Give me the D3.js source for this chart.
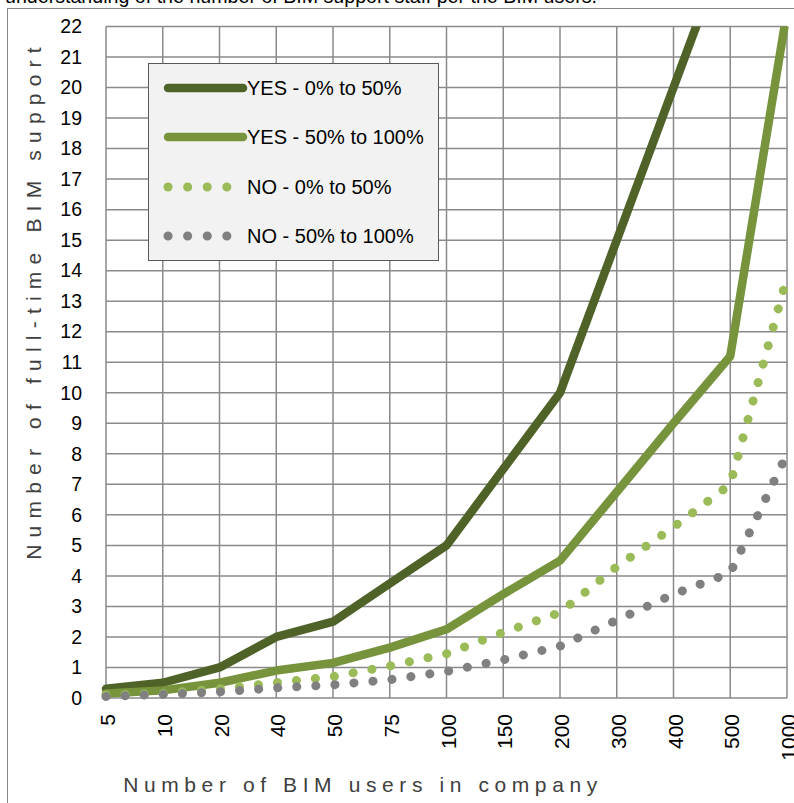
<!DOCTYPE html>
<html><head><meta charset="utf-8">
<script src="https://cdn.jsdelivr.net/npm/d3@7"></script>
<style>body{margin:0;background:#fff;}svg{display:block;}</style>
</head><body>
<svg id="c" width="794" height="803"></svg>
<script>
const categories = ["5","10","20","40","50","75","100","150","200","300","400","500","1000"];
const yesLow  = [0.3,0.5,1.0,2.0,2.5,3.75,5.0,7.5,10.0,15.0,20.0,25.0,50.0];
const yesHigh = [0.15,0.25,0.5,0.9,1.15,1.65,2.25,3.4,4.5,6.75,9.0,11.2,22.5];
const noLow   = [0.1,0.15,0.3,0.5,0.7,1.05,1.45,2.15,2.8,4.3,5.6,7.0,13.8];
const noHigh  = [0.05,0.12,0.2,0.33,0.43,0.6,0.87,1.25,1.7,2.55,3.4,4.1,8.0];
const seriesNames = ["YES - 0% to 50%","YES - 50% to 100%","NO - 0% to 50%","NO - 50% to 100%"];
const yTicks = d3.range(0,23);
const titleText = "understanding of the number of BIM support staff per the BIM users.";
const xTitle = "Number of BIM users in company";
const yTitle = "Number of full-time BIM support";

const series = [
  {name: seriesNames[0], values: yesLow,  color: "#4F6228", dotted: false},
  {name: seriesNames[1], values: yesHigh, color: "#77933C", dotted: false},
  {name: seriesNames[2], values: noLow,   color: "#9BBB59", dotted: true},
  {name: seriesNames[3], values: noHigh,  color: "#808080", dotted: true}
];

const svg = d3.select("#c");
const font = "'Liberation Sans', Arial, sans-serif";
const L = 106, R = 787, T = 26.5, B = 698;

// top cut-off text
svg.append("text").attr("x", 5).attr("y", 3).attr("font-family", font).attr("font-size", 20)
  .attr("fill", "#000").attr("textLength", 592).attr("lengthAdjust", "spacingAndGlyphs").text(titleText);

// outer chart border
svg.append("rect").attr("x", 7.5).attr("y", 8.5).attr("width", 900).attr("height", 900)
  .attr("fill", "none").attr("stroke", "#868686").attr("stroke-width", 1);

const x = d3.scalePoint().domain(categories).range([L, R]);
const y = d3.scaleLinear().domain([0, 22]).range([B, T]);

// gridlines
const grid = svg.append("g").attr("stroke", "#8a8a8a").attr("stroke-width", 1.5);
grid.selectAll("line.h").data(yTicks).join("line")
  .attr("x1", L).attr("x2", R).attr("y1", d => y(d)).attr("y2", d => y(d));
grid.selectAll("line.v").data(categories).join("line")
  .attr("y1", T).attr("y2", B).attr("x1", d => x(d)).attr("x2", d => x(d));

// y axis labels
const yAxis = d3.axisLeft(y).tickValues(yTicks).tickSize(0).tickPadding(24);
const gy = svg.append("g").attr("transform", `translate(${L},0)`).call(yAxis);
gy.select(".domain").remove();
gy.selectAll("text").attr("font-family", font).attr("font-size", 19.5).attr("fill", "#000");

// x axis labels (rotated)
const xAxis = d3.axisBottom(x).tickSize(0).tickPadding(0);
const gx = svg.append("g").attr("transform", `translate(0,${B})`).call(xAxis);
gx.select(".domain").remove();
gx.selectAll("text").attr("font-family", font).attr("font-size", 21).attr("fill", "#000")
  .attr("text-anchor", "end").attr("dy", null)
  .attr("transform", "translate(8.5,16) rotate(-90)").attr("y", 0).attr("x", 0);

// clip
svg.append("clipPath").attr("id", "clip").append("rect")
  .attr("x", L - 10).attr("y", T).attr("width", R - L + 20).attr("height", B - T + 10);

const line = d3.line().x((d, i) => x(categories[i])).y(d => y(d));
const lines = svg.append("g").attr("clip-path", "url(#clip)");
series.forEach(s => {
  const p = lines.append("path").datum(s.values).attr("d", line)
    .attr("fill", "none").attr("stroke", s.color).attr("stroke-linejoin", "round");
  if (s.dotted) {
    p.attr("stroke-width", 9).attr("stroke-linecap", "round").attr("stroke-dasharray", "0.1,19");
  } else {
    p.attr("stroke-width", 8.5).attr("stroke-linecap", "round");
  }
});

// legend
const lg = svg.append("g");
lg.append("rect").attr("x", 148.5).attr("y", 63.5).attr("width", 290).attr("height", 197)
  .attr("fill", "#F2F2F2").attr("stroke", "#595959").attr("stroke-width", 1);
const rowY = [88, 137, 187, 236];
series.forEach((s, i) => {
  const ln = lg.append("line").attr("x1", 168).attr("x2", 243).attr("y1", rowY[i]).attr("y2", rowY[i])
    .attr("stroke", s.color).attr("stroke-width", 8.5).attr("stroke-linecap", "round");
  if (s.dotted) ln.attr("x1", 168).attr("x2", 230).attr("stroke-width", 9).attr("stroke-dasharray", "0.1,19.5");
  lg.append("text").attr("x", 247).attr("y", rowY[i] + 7).attr("font-family", font).attr("font-size", 20)
    .attr("fill", "#000").text(s.name);
});

// axis titles
svg.append("text").attr("x", 363).attr("y", 792).attr("text-anchor", "middle")
  .attr("font-family", font).attr("font-size", 21).attr("letter-spacing", 5.6).attr("fill", "#404040").text(xTitle);
svg.append("text").attr("transform", "translate(41,300) rotate(-90)").attr("text-anchor", "middle")
  .attr("font-family", font).attr("font-size", 21).attr("letter-spacing", 7.2).attr("fill", "#404040").text(yTitle);
</script>
</body></html>
